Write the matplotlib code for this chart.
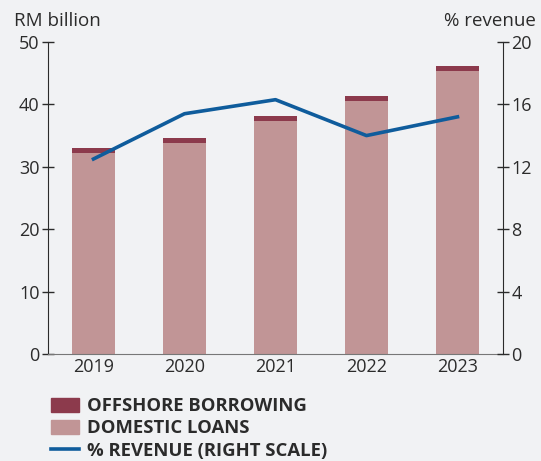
import numpy as np
import matplotlib.pyplot as plt
from matplotlib.patches import Patch
from matplotlib.lines import Line2D

years = ['2019', '2020', '2021', '2022', '2023']
domestic_loans = [32.2, 33.8, 37.3, 40.6, 45.4]
offshore_borrowing = [0.8, 0.8, 0.9, 0.8, 0.8]
pct_revenue = [12.5, 15.4, 16.3, 14.0, 15.2]

left_ticks = [0, 10, 20, 30, 40, 50]
right_ticks = [0, 4, 8, 12, 16, 20]

bg = '#f1f2f4'
c_dom = '#c19596'
c_off = '#8c3a4c'
c_line = '#0f5c9c'
txt = '#2b2b2b'

plt.rcParams['font.family'] = ['Open Sans', 'DejaVu Sans']

fig = plt.figure(figsize=(5.41, 4.61), dpi=100, facecolor=bg)
ax = fig.add_axes([0.0887, 0.232, 0.841, 0.677], facecolor=bg)

x = np.arange(len(years))
ax.bar(x, domestic_loans, width=0.48, color=c_dom, zorder=2)
ax.bar(x, offshore_borrowing, width=0.48, bottom=domestic_loans, color=c_off, zorder=2)

ax.set_xlim(-0.5, 4.5)
ax.set_ylim(0, 50)
ax.set_yticks(left_ticks)
ax.set_xticks(x)
ax.set_xticklabels(years)

for s in ['top', 'right']:
    ax.spines[s].set_visible(False)
ax.spines['left'].set_color(txt)
ax.spines['bottom'].set_color('#777777')
ax.tick_params(axis='y', direction='inout', length=8, width=1, colors=txt,
               labelsize=13, pad=2)
ax.tick_params(axis='x', length=0, labelsize=13, colors=txt, pad=3)

# revenue share on its own scale
ax2 = ax.twinx()
ax2.plot(x, pct_revenue, color=c_line, lw=2.6, zorder=3)
ax2.set_ylim(0, 20)
ax2.set_yticks(right_ticks)
for s in ['top', 'left', 'bottom']:
    ax2.spines[s].set_visible(False)
ax2.spines['right'].set_color(txt)
ax2.tick_params(axis='y', direction='inout', length=8, width=1, colors=txt,
                labelsize=13, pad=2)

fig.text(0.026, 0.955, 'RM billion', fontsize=13.5, color=txt, va='center', ha='left')
fig.text(0.99, 0.955, '% revenue', fontsize=13.5, color=txt, va='center', ha='right')

handles = [
    Patch(color=c_off),
    Patch(color=c_dom),
    Line2D([], [], color=c_line, lw=2.6),
]
labels = ['OFFSHORE BORROWING', 'DOMESTIC LOANS', '% REVENUE (RIGHT SCALE)']
fig.legend(handles, labels, loc='upper left', bbox_to_anchor=(0.094, 0.138),
           frameon=False, prop={'weight': 'bold', 'size': 13.3},
           labelcolor=txt, handlelength=1.5, handleheight=0.75,
           handletextpad=0.45, labelspacing=0.22, borderaxespad=0, borderpad=0)

fig.savefig('out.png', dpi=100, facecolor=bg)
